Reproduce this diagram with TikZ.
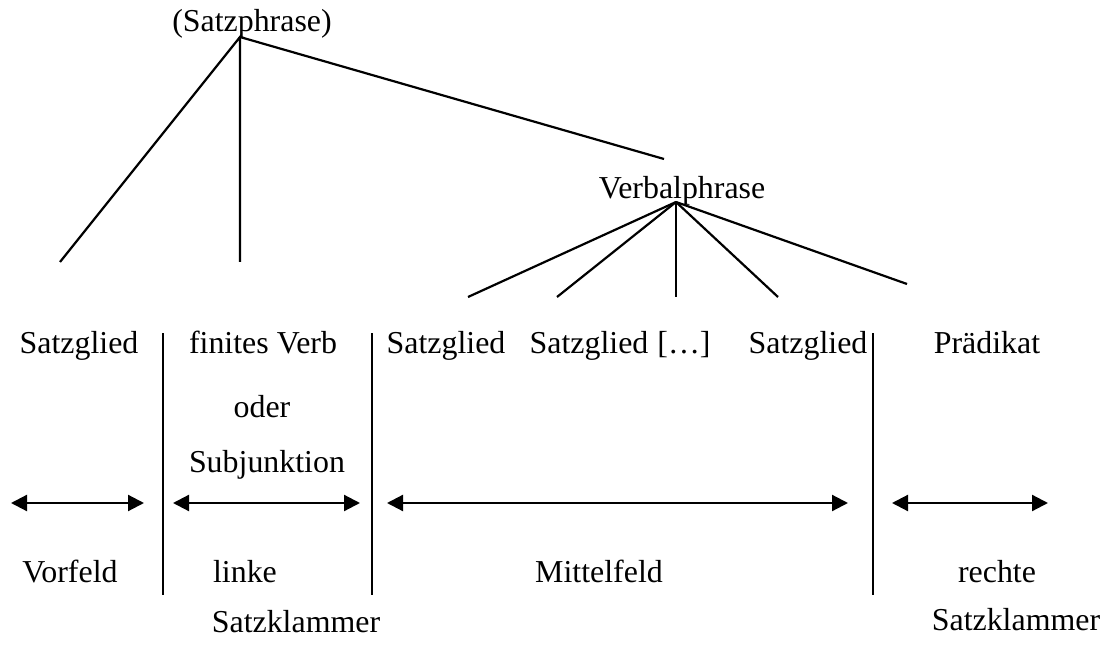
\documentclass[tikz,border=0pt]{standalone}
\usepackage{fontspec}
\setmainfont{Liberation Serif}
\usetikzlibrary{arrows.meta}
\begin{document}
\begin{tikzpicture}[x=1pt,y=-1pt,
  lbl/.style={anchor=base,inner sep=0pt,font=\fontsize{31.9}{37}\selectfont},
  ln/.style={line width=2.2pt},
  dbl/.style={line width=2.2pt,{Triangle[length=16pt,width=16pt]}-{Triangle[length=16pt,width=16pt]}},
  sep/.style={line width=2.2pt}]
\useasboundingbox (0,0) rectangle (1106,647);
% tree top
\node[lbl] (sp) at (252,32) {(Satzphrase)};
\node[lbl] (vp) at (682,199) {Verbalphrase};
\coordinate (spA) at (240,37);
\coordinate (spL) at (60,262);
\coordinate (spM) at (240,262);
\coordinate (spR) at (664,159);
\draw[ln] (spL) -- (spA) -- (spM);
\draw[ln] (spA) -- (spR);
\coordinate (vpA) at (676,202);
\coordinate (v1) at (468,297);
\coordinate (v2) at (557,297);
\coordinate (v3) at (676,297);
\coordinate (v4) at (778,297);
\coordinate (v5) at (907,284);
\foreach \e in {v1,v2,v3,v4,v5} \draw[ln] (vpA) -- (\e);
% upper row labels
\node[lbl] (sg1) at (79,353) {Satzglied};
\node[lbl] (fv) at (263,353) {finites Verb};
\node[lbl] (od) at (262,417) {oder};
\node[lbl] (sj) at (267,472) {Subjunktion};
\node[lbl] (sg2) at (446,353) {Satzglied};
\node[lbl] (sg3) at (589,353) {Satzglied};
\node[lbl] (dots) at (684,353) {[…]};
\node[lbl] (sg4) at (808,353) {Satzglied};
\node[lbl] (pr) at (987,353) {Prädikat};
% separators
\coordinate (s1t) at (163,333); \coordinate (s1b) at (163,595);
\coordinate (s2t) at (372,333); \coordinate (s2b) at (372,595);
\coordinate (s3t) at (873,333); \coordinate (s3b) at (873,595);
\draw[sep] (s1t) -- (s1b);
\draw[sep] (s2t) -- (s2b);
\draw[sep] (s3t) -- (s3b);
% arrows
\coordinate (a1l) at (11,503); \coordinate (a1r) at (144,503);
\coordinate (a2l) at (173,503); \coordinate (a2r) at (360,503);
\coordinate (a3l) at (387,503); \coordinate (a3r) at (848,503);
\coordinate (a4l) at (892,503); \coordinate (a4r) at (1048,503);
\draw[dbl] (a1l) -- (a1r);
\draw[dbl] (a2l) -- (a2r);
\draw[dbl] (a3l) -- (a3r);
\draw[dbl] (a4l) -- (a4r);
% field labels
\node[lbl] (vf) at (70,582) {Vorfeld};
\node[lbl] (lk) at (245,582) {linke};
\node[lbl] (lk2) at (296,632) {Satzklammer};
\node[lbl] (mf) at (599,582) {Mittelfeld};
\node[lbl] (rk) at (997,582) {rechte};
\node[lbl] (rk2) at (1016,630) {Satzklammer};
\end{tikzpicture}
\end{document}
